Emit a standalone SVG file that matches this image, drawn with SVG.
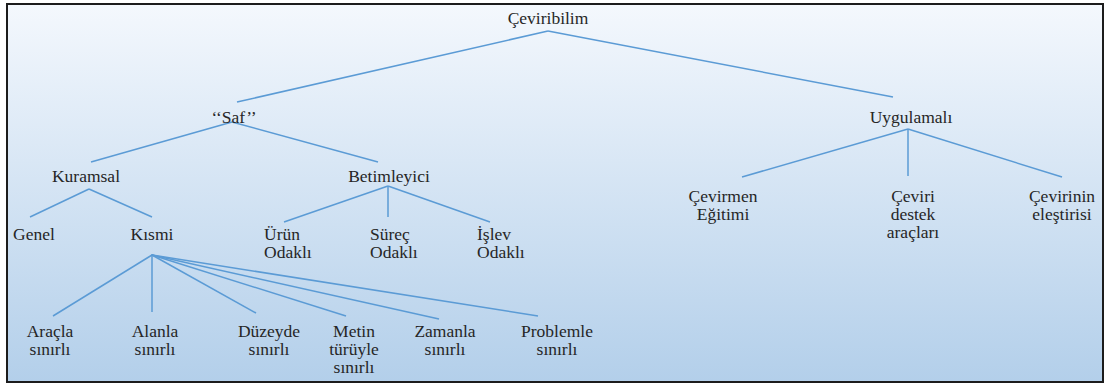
<svg xmlns="http://www.w3.org/2000/svg" width="1105" height="385" viewBox="0 0 1105 385">
<defs>
<linearGradient id="bg" x1="0" y1="0" x2="0" y2="1">
<stop offset="0" stop-color="#f4f8fd"/>
<stop offset="1" stop-color="#b3cfea"/>
</linearGradient>
<style>
text{font-family:"Liberation Serif","Times New Roman",serif;font-size:17.5px;fill:#262626;text-anchor:middle}
text.l{text-anchor:start}
#connectors line{stroke:#5b9bd5;stroke-width:1.5;fill:none}
</style>
</defs>
<rect x="0" y="0" width="1105" height="385" fill="#ffffff"/>
<rect x="7" y="4" width="1096" height="378" fill="url(#bg)" stroke="#1c1c1c" stroke-width="2"/>
<g id="connectors">
<line x1="548" y1="31" x2="237" y2="102"/>
<line x1="548" y1="31" x2="893" y2="97"/>
<line x1="232" y1="122" x2="91" y2="162"/>
<line x1="232" y1="122" x2="378" y2="162"/>
<line x1="908" y1="129" x2="742" y2="177"/>
<line x1="908" y1="129" x2="908" y2="176"/>
<line x1="908" y1="129" x2="1062" y2="177"/>
<line x1="89" y1="189" x2="30" y2="217"/>
<line x1="89" y1="189" x2="152" y2="217"/>
<line x1="388" y1="186" x2="284" y2="222"/>
<line x1="388" y1="186" x2="388" y2="217"/>
<line x1="388" y1="186" x2="490" y2="222"/>
<line x1="152" y1="254" x2="152" y2="312"/>
<line x1="152" y1="255" x2="53" y2="316"/>
<line x1="152" y1="255" x2="256" y2="313"/>
<line x1="152" y1="255" x2="346" y2="316"/>
<line x1="152" y1="255" x2="439" y2="319"/>
<line x1="152" y1="255" x2="538" y2="316"/>
</g>
<g id="n-ceviribilim"><text x="548" y="24">Çeviribilim</text></g>
<g id="n-saf"><text x="234" y="123">‘‘Saf’’</text></g>
<g id="n-uygulamali"><text x="911" y="123">Uygulamalı</text></g>
<g id="n-kuramsal"><text x="86" y="182">Kuramsal</text></g>
<g id="n-betimleyici"><text x="389" y="182">Betimleyici</text></g>
<g id="n-genel"><text x="34" y="240">Genel</text></g>
<g id="n-kismi"><text x="152" y="240">Kısmi</text></g>
<g id="n-urun"><text class="l" x="264" y="240">Ürün</text><text class="l" x="264" y="258">Odaklı</text></g>
<g id="n-surec"><text class="l" x="370" y="240">Süreç</text><text class="l" x="370" y="258">Odaklı</text></g>
<g id="n-islev"><text class="l" x="477" y="240">İşlev</text><text class="l" x="477" y="258">Odaklı</text></g>
<g id="n-cevirmen"><text x="723" y="202">Çevirmen</text><text x="723" y="220">Eğitimi</text></g>
<g id="n-ceviri"><text x="913" y="202">Çeviri</text><text x="913" y="220">destek</text><text x="913" y="238">araçları</text></g>
<g id="n-cevirinin"><text x="1062" y="202">Çevirinin</text><text x="1062" y="220">eleştirisi</text></g>
<g id="n-aracla"><text x="50" y="337">Araçla</text><text x="50" y="355">sınırlı</text></g>
<g id="n-alanla"><text x="155" y="337">Alanla</text><text x="155" y="355">sınırlı</text></g>
<g id="n-duzeyde"><text x="269" y="337">Düzeyde</text><text x="269" y="355">sınırlı</text></g>
<g id="n-metin"><text x="354" y="337">Metin</text><text x="354" y="355">türüyle</text><text x="354" y="373">sınırlı</text></g>
<g id="n-zamanla"><text x="445" y="337">Zamanla</text><text x="445" y="355">sınırlı</text></g>
<g id="n-problemle"><text x="557" y="337">Problemle</text><text x="557" y="355">sınırlı</text></g>
</svg>
